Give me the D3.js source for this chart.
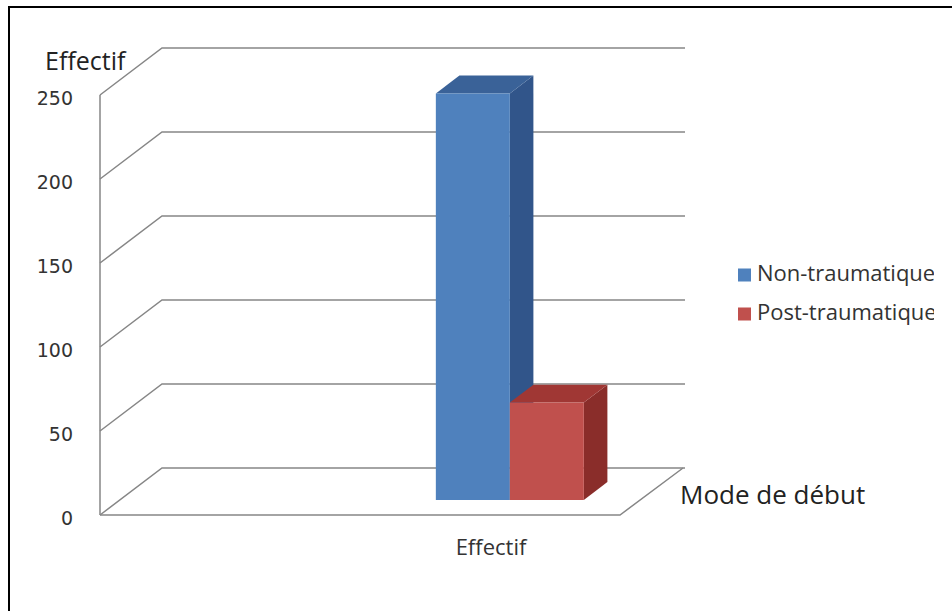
<!DOCTYPE html>
<html>
<head>
<meta charset="utf-8">
<script src="https://cdn.jsdelivr.net/npm/d3@7"></script>
<style>
  html, body { margin: 0; padding: 0; background: #fff; overflow: hidden; }
  svg { display: block; }
</style>
</head>
<body>
<svg id="chart" width="952" height="611"></svg>
<script>
// Data
const categories = ["Effectif"];
const seriesNames = ["Non-traumatique", "Post-traumatique"];
const seriesValues = [242, 58];
const yTicks = [0, 50, 100, 150, 200, 250];
const yTitle = "Effectif";
const xTitle = "Mode de début";

// Colours per series: front, side, top faces
const palette = [
  { front: "#4F81BD", side: "#31558A", top: "#3A6298" },
  { front: "#C0504D", side: "#8A2D2A", top: "#A03734" }
];

const svg = d3.select("#chart");
const W = 952, H = 611;

// 3D projection: depth offset from front plane to back wall
const depthDX = 62, depthDY = -47;
const proj = (x, y, d) => [x + depthDX * d, y + depthDY * d];

// Front-plane scales
const y = d3.scaleLinear().domain([0, 250]).range([515, 95]);
const x0 = d3.scaleBand().domain(categories).range([100, 620]).paddingInner(0).paddingOuter(0);
const x1 = d3.scaleBand().domain(seriesNames).range([316, 464]).padding(0);

// Outer frame (left + top visible)
svg.append("path")
  .attr("d", `M9,${H + 5} L9,7 L${W + 5},7`)
  .attr("fill", "none").attr("stroke", "#000").attr("stroke-width", 2);

const grid = svg.append("g").attr("fill", "none").attr("stroke", "#868686").attr("stroke-width", 1.5);

// Left wall vertical edge
grid.append("line")
  .attr("x1", 100).attr("x2", 100)
  .attr("y1", y(250)).attr("y2", y(0));

// Gridlines: diagonal on left wall then horizontal across back wall
yTicks.forEach(t => {
  const [bx, by] = proj(100, y(t), 1);
  grid.append("path")
    .attr("d", `M100,${y(t)} L${bx},${by} L685,${by}`);
});

// Floor front edge and right edge
{
  const [rx, ry] = proj(620, y(0), 1);
  grid.append("path").attr("d", `M100,${y(0)} L620,${y(0)} L${rx + 1},${ry}`);
}

// Tick labels
svg.append("g")
  .selectAll("text").data(yTicks).join("text")
  .attr("x", 73).attr("y", d => y(d) + 4)
  .attr("text-anchor", "end").attr("dominant-baseline", "middle")
  .attr("font-family", "DejaVu Sans, sans-serif").attr("font-size", 19)
  .attr("fill", "#333")
  .text(d => d);

// Bars (3D boxes), depth from 0.32 to 0.70
const dFront = 0.32, dBack = 0.70;
const bars = svg.append("g");
seriesNames.forEach((s, i) => {
  const v = seriesValues[i];
  const cat = categories[0];
  const xl = x0(cat) + x1(s), xr = xl + x1.bandwidth();
  const f = (xx, yy, d) => proj(xx, yy, d).join(",");
  const yb = y(0), yt = y(v);
  const c = palette[i];
  const g = bars.append("g");
  // side face
  g.append("polygon")
    .attr("points", [f(xr, yb, dFront), f(xr, yb, dBack), f(xr, yt, dBack), f(xr, yt, dFront)].join(" "))
    .attr("fill", c.side);
  // top face
  g.append("polygon")
    .attr("points", [f(xl, yt, dFront), f(xr, yt, dFront), f(xr, yt, dBack), f(xl, yt, dBack)].join(" "))
    .attr("fill", c.top);
  // front face
  g.append("polygon")
    .attr("points", [f(xl, yb, dFront), f(xr, yb, dFront), f(xr, yt, dFront), f(xl, yt, dFront)].join(" "))
    .attr("fill", c.front);
});

// Axis titles
svg.append("text")
  .attr("x", 45).attr("y", 63)
  .attr("dominant-baseline", "middle")
  .attr("font-family", "Open Sans, sans-serif").attr("font-size", 25)
  .attr("fill", "#222").text(yTitle);

svg.append("text")
  .attr("x", 680).attr("y", 497)
  .attr("dominant-baseline", "middle")
  .attr("font-family", "Open Sans, sans-serif").attr("font-size", 26)
  .attr("fill", "#222").text(xTitle);

// Category label
svg.append("text")
  .attr("x", 491).attr("y", 549)
  .attr("text-anchor", "middle").attr("dominant-baseline", "middle")
  .attr("font-family", "Open Sans, sans-serif").attr("font-size", 22)
  .attr("fill", "#333").text(categories[0]);

// Legend (clipped on the right like the chart area)
svg.append("defs").append("clipPath").attr("id", "legend-clip")
  .append("rect").attr("x", 700).attr("y", 240).attr("width", 234).attr("height", 110);
const legend = svg.append("g").attr("clip-path", "url(#legend-clip)");
seriesNames.forEach((s, i) => {
  const ly = 275 + i * 39;
  legend.append("rect")
    .attr("x", 738).attr("y", ly - 6.5).attr("width", 13).attr("height", 13)
    .attr("fill", palette[i].front);
  legend.append("text")
    .attr("x", 757).attr("y", ly)
    .attr("dominant-baseline", "middle")
    .attr("font-family", "Open Sans, sans-serif").attr("font-size", 22)
    .attr("fill", "#333").text(s);
});
</script>
</body>
</html>
